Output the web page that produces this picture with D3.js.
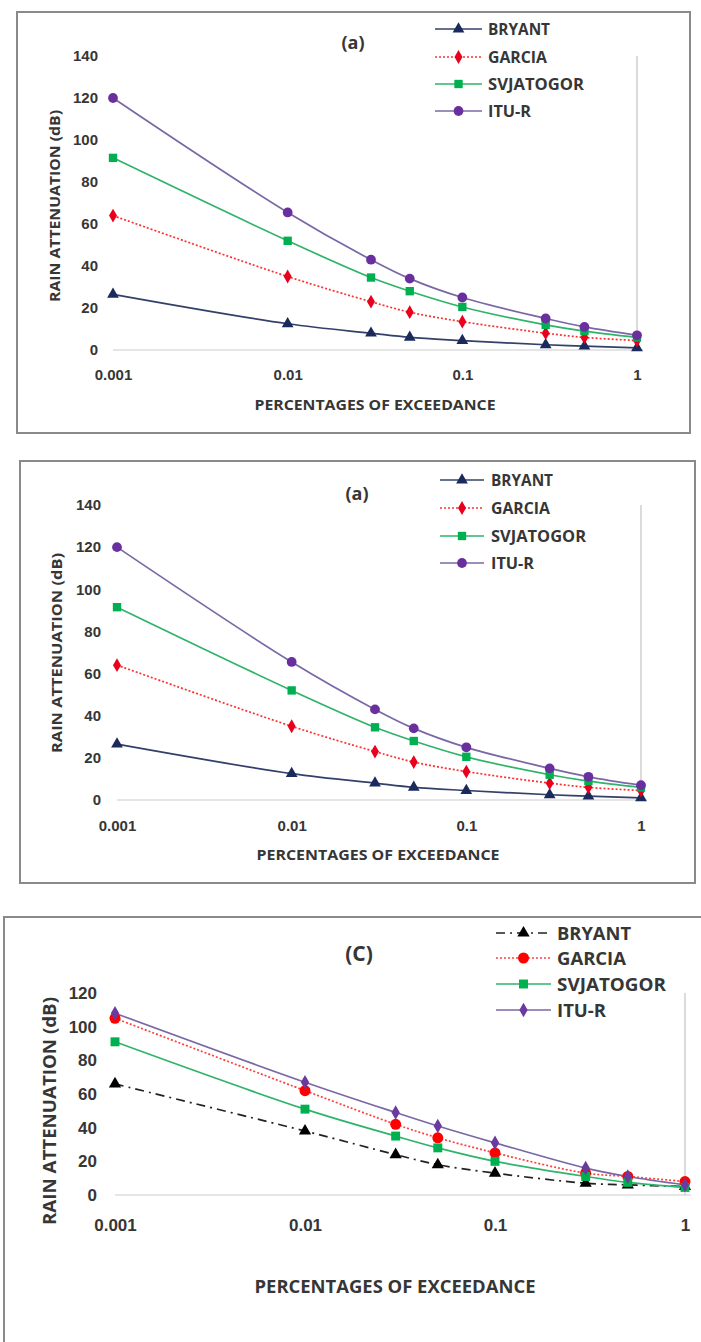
<!DOCTYPE html>
<html><head><meta charset="utf-8">
<script src="https://cdn.jsdelivr.net/npm/d3@7"></script>
<style>
body{margin:0;background:#fff}
svg{display:block}
text{font-family:"Liberation Sans Narrow","Arial Narrow","Open Sans",sans-serif;font-weight:bold;fill:#363636}
</style>
</head><body><svg id="c" width="701" height="1342"></svg>
<script>
// ---- data ----
const percentages = [0.001, 0.01, 0.03, 0.05, 0.1, 0.3, 0.5, 1];
const xTickValues = [0.001, 0.01, 0.1, 1];
const xTickLabels = ["0.001", "0.01", "0.1", "1"];
const seriesNames = ["BRYANT", "GARCIA", "SVJATOGOR", "ITU-R"];
const yTicksA = [0, 20, 40, 60, 80, 100, 120, 140];
const yTicksC = [0, 20, 40, 60, 80, 100, 120];
const bryantA = [26.5, 12.5, 8, 6, 4.5, 2.5, 1.8, 1];
const garciaA = [64, 35, 23, 18, 13.5, 8, 6, 4.5];
const svjatogorA = [91.5, 52, 34.5, 28, 20.5, 12, 9, 6];
const ituA = [120, 65.5, 43, 34, 25, 15, 11, 7];
const bryantC = [66, 38, 24, 18, 13, 7, 6, 5];
const garciaC = [105, 62, 42, 34, 25, 13, 11, 8];
const svjatogorC = [91, 51, 35, 28, 20, 11, 7.5, 4.5];
const ituC = [108, 67, 49, 41, 31, 16, 11, 6];
const panelTitles = ["(a)", "(a)", "(C)"];
const xTitle = "PERCENTAGES OF EXCEEDANCE";
const yTitle = "RAIN ATTENUATION (dB)";

const svg = d3.select("#c");

const stylesAB = [
  {line:"#33406a", fill:"#1b2a5c", dash:null, sym:d3.symbolTriangle, size:60},
  {line:"#ff3030", fill:"#e8001c", dash:"2,2", sym:d3.symbolDiamond, size:55},
  {line:"#2fb36a", fill:"#00b050", dash:null, sym:d3.symbolSquare, size:70},
  {line:"#7a68a6", fill:"#6a2f9e", dash:null, sym:d3.symbolCircle, size:75}
];
const stylesC = [
  {line:"#222", fill:"#000", dash:"9,5,2,5", sym:d3.symbolTriangle, size:65},
  {line:"#ff4040", fill:"#ff0000", dash:"2,2", sym:d3.symbolCircle, size:95},
  {line:"#2fb36a", fill:"#00b050", dash:null, sym:d3.symbolSquare, size:80},
  {line:"#7a68a6", fill:"#6a3a9e", dash:null, sym:d3.symbolDiamond, size:60}
];

function panel(o) {
  const g = svg.append("g");
  const x = d3.scaleLog().domain([0.001, 1]).range(o.xr);
  const y = d3.scaleLinear().domain([0, o.ymax]).range(o.yr);

  // frame
  if (o.frame === "full") {
    g.append("rect").attr("x", o.bx).attr("y", o.by).attr("width", o.bw).attr("height", o.bh)
      .attr("fill", "none").attr("stroke", "#8a8a8a").attr("stroke-width", 2);
  } else {
    g.append("path").attr("d", `M${o.bx},1342 V${o.by} H701`)
      .attr("fill", "none").attr("stroke", "#8a8a8a").attr("stroke-width", 2);
  }

  // baseline and right gray line
  g.append("line").attr("x1", x(0.001)).attr("x2", x(1) + 6).attr("y1", y(0)).attr("y2", y(0))
    .attr("stroke", "#dcdcdc").attr("stroke-width", 1.5);
  g.append("line").attr("x1", x(1)).attr("x2", x(1)).attr("y1", y(o.ymax)).attr("y2", y(0))
    .attr("stroke", "#cfcfcf").attr("stroke-width", 1.5);

  // y axis
  const ya = g.append("g").attr("transform", `translate(${x(0.001)},0)`)
    .call(d3.axisLeft(y).tickValues(o.yticks).tickSize(0).tickPadding(o.ypad));
  ya.select(".domain").remove();
  ya.selectAll("text").style("font-size", o.tickFs + "px").attr("fill", "#363636")
    .style("font-family", "inherit");

  // x axis
  const xa = g.append("g").attr("transform", `translate(0,${o.xlabY})`)
    .call(d3.axisBottom(x).tickValues(xTickValues).tickFormat((d, i) => xTickLabels[i]).tickSize(0).tickPadding(0));
  xa.select(".domain").remove();
  xa.selectAll("text").style("font-size", o.tickFs + "px").attr("fill", "#363636")
    .attr("dy", "0.35em").attr("y", 0).style("font-family", "inherit");

  // titles
  g.append("text").attr("x", o.xtX).attr("y", o.xtY).attr("text-anchor", "middle")
    .attr("dominant-baseline", "central").style("font-size", o.titleFs + "px")
    .attr("textLength", o.xtW).attr("lengthAdjust", "spacingAndGlyphs").text(xTitle);
  g.append("text").attr("transform", `translate(${o.ytX},${o.ytY}) rotate(-90)`)
    .attr("text-anchor", "middle").attr("dominant-baseline", "central")
    .style("font-size", o.titleFs + "px")
    .attr("textLength", o.ytW).attr("lengthAdjust", "spacingAndGlyphs").text(yTitle);
  g.append("text").attr("x", o.ptX).attr("y", o.ptY).attr("text-anchor", "middle")
    .attr("dominant-baseline", "central").style("font-size", o.ptFs + "px").text(o.ptitle);

  // series
  const line = d3.line().x(d => x(d[0])).y(d => y(d[1])).curve(d3.curveCatmullRom.alpha(0.5));
  o.series.forEach((vals, i) => {
    const st = o.styles[i];
    const pts = percentages.map((p, j) => [p, vals[j]]);
    g.append("path").datum(pts).attr("d", line).attr("fill", "none")
      .attr("stroke", st.line).attr("stroke-width", 1.7)
      .attr("stroke-dasharray", st.dash);
  });
  o.series.forEach((vals, i) => {
    const st = o.styles[i];
    const pts = percentages.map((p, j) => [p, vals[j]]);
    g.selectAll(null).data(pts).enter().append("path")
      .attr("d", d3.symbol().type(st.sym).size(st.size))
      .attr("transform", d => `translate(${x(d[0])},${y(d[1])})`)
      .attr("fill", st.fill);
  });

  // legend
  seriesNames.forEach((name, i) => {
    const st = o.styles[i];
    const ly = o.legY[i];
    g.append("line").attr("x1", o.legX[0]).attr("x2", o.legX[1]).attr("y1", ly).attr("y2", ly)
      .attr("stroke", st.line).attr("stroke-width", 1.7).attr("stroke-dasharray", st.dash);
    g.append("path").attr("d", d3.symbol().type(st.sym).size(st.size))
      .attr("transform", `translate(${(o.legX[0] + o.legX[1]) / 2},${ly})`).attr("fill", st.fill);
    g.append("text").attr("x", o.legX[2]).attr("y", ly).attr("dominant-baseline", "central")
      .style("font-size", o.legFs + "px")
      .attr("textLength", o.legW[i]).attr("lengthAdjust", "spacingAndGlyphs").text(name);
  });
}

panel({
  frame: "full", bx: 17, by: 12, bw: 673, bh: 421,
  xr: [113, 637], ymax: 140, yr: [350, 56], yticks: yTicksA, ypad: 15, tickFs: 15,
  xlabY: 375, xtX: 375, xtY: 404, xtW: 241, ytX: 54, ytY: 206, ytW: 192, titleFs: 15,
  ptX: 353, ptY: 42, ptFs: 18, ptitle: panelTitles[0],
  series: [bryantA, garciaA, svjatogorA, ituA], styles: stylesAB,
  legX: [435, 482, 488], legY: [29, 57, 84, 111], legFs: 16, legW: [62, 59, 96, 43]
});
panel({
  frame: "full", bx: 20, by: 461, bw: 675, bh: 422,
  xr: [117, 641], ymax: 140, yr: [800, 505], yticks: yTicksA, ypad: 16, tickFs: 15,
  xlabY: 826, xtX: 378, xtY: 854, xtW: 243, ytX: 56, ytY: 653, ytW: 200, titleFs: 15,
  ptX: 357, ptY: 493, ptFs: 18, ptitle: panelTitles[1],
  series: [bryantA, garciaA, svjatogorA, ituA], styles: stylesAB,
  legX: [440, 484, 491], legY: [480, 508, 536, 563], legFs: 16, legW: [62, 59, 95, 43]
});
panel({
  frame: "open", bx: 4, by: 917,
  xr: [115, 685], ymax: 120, yr: [1195, 993], yticks: yTicksC, ypad: 18, tickFs: 17,
  xlabY: 1225, xtX: 395, xtY: 1286, xtW: 281, ytX: 49, ytY: 1111, ytW: 228, titleFs: 17,
  ptX: 359, ptY: 953, ptFs: 21, ptitle: panelTitles[2],
  series: [bryantC, garciaC, svjatogorC, ituC], styles: stylesC,
  legX: [496, 551, 557], legY: [933, 958, 984, 1010], legFs: 18, legW: [74, 69, 109, 49]
});
</script>
</body></html>
